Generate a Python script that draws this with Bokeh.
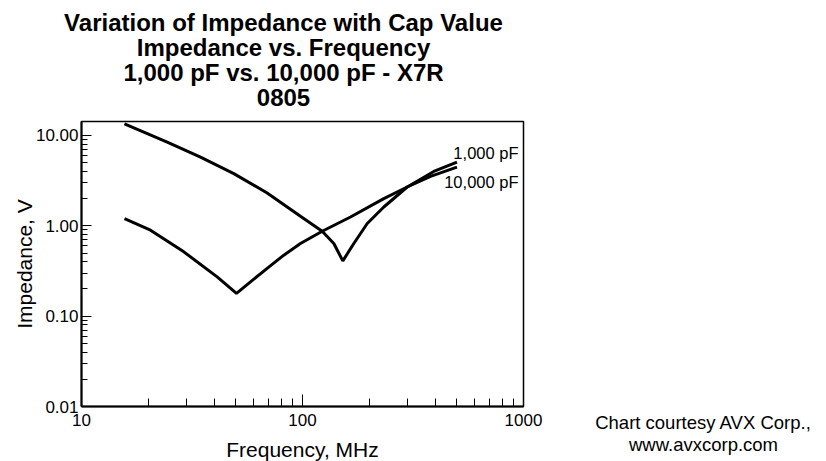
from bokeh.plotting import figure
from bokeh.layouts import column, row
from bokeh.models import Label, FixedTicker, PrintfTickFormatter, Range1d
from bokeh.embed import file_html
from bokeh.resources import INLINE

# ---- data ----
freq_1000pF = [15.65, 24.42, 34.56, 48.89, 69.2, 97.9, 122.8, 138.6, 152.2,
               170.7, 196.3, 233.3, 297.7, 392.7, 500]
z_1000pF = [13.47, 8.44, 5.76, 3.78, 2.31, 1.276, 0.871, 0.637, 0.409,
            0.637, 1.06, 1.616, 2.69, 4.00, 5.07]

freq_10000pF = [15.65, 20.52, 29.04, 41.1, 50.27, 58.17, 69.2, 82.31, 97.9,
                122.8, 164.9, 233.3, 297.7, 379.6, 500]
z_10000pF = [1.203, 0.894, 0.515, 0.2725, 0.1788, 0.240, 0.3375, 0.473,
             0.637, 0.871, 1.253, 2.0, 2.69, 3.53, 4.47]

x_ticks = [10, 100, 1000]
y_ticks = [0.01, 0.1, 1, 10]
title_lines = ["Variation of Impedance with Cap Value",
               "Impedance vs. Frequency",
               "1,000 pF vs. 10,000 pF - X7R",
               "0805"]
series_labels = ["1,000 pF", "10,000 pF"]
x_label = "Frequency, MHz"
y_label = "Impedance, V"
credit_lines = ["Chart courtesy AVX Corp.,", "www.avxcorp.com"]

FONT = "Liberation Sans"

x_minor = [m * t for t in x_ticks[:-1] for m in range(2, 10)]
y_minor = [m * t for t in y_ticks[:-1] for m in range(2, 10)]


def blank_fig(w, h):
    f = figure(width=w, height=h, x_range=Range1d(0, 1), y_range=Range1d(0, 1),
               x_axis_location=None, y_axis_location=None,
               output_backend="svg", toolbar_location=None, min_border=0)
    f.outline_line_color = None
    f.grid.visible = False
    f.background_fill_color = "white"
    f.border_fill_color = "white"
    return f


def add_label(fig, text, sx, sy, size, bold=False, align="center"):
    fig.add_layout(Label(x=sx, y=sy, x_units="screen", y_units="screen",
                         text=text, text_font=FONT, text_font_size=size,
                         text_font_style="bold" if bold else "normal",
                         text_align=align, text_baseline="middle",
                         text_color="black"))


# ---- title strip (page x 0..560, y 0..112) ----
title_fig = blank_fig(560, 112)
for i, t in enumerate(title_lines):
    add_label(title_fig, t, 283, 90.5 - i * 25.3, "24px", bold=True)

# ---- main chart ----
p = figure(width=560, height=348, x_axis_type="log", y_axis_type="log",
           x_range=Range1d(10, 1000), y_range=Range1d(0.01, 14.28),
           output_backend="svg", toolbar_location=None,
           frame_width=442, frame_height=285,
           min_border_left=81, min_border_right=37,
           min_border_top=9, min_border_bottom=54)

p.background_fill_color = "white"
p.border_fill_color = "white"
p.outline_line_color = "black"
p.outline_line_width = 1.5
p.xgrid.visible = False
p.ygrid.visible = False

p.xaxis.ticker = FixedTicker(ticks=x_ticks, minor_ticks=x_minor)
p.yaxis.ticker = FixedTicker(ticks=y_ticks, minor_ticks=y_minor)
p.xaxis.formatter = PrintfTickFormatter(format="%d")
p.yaxis.formatter = PrintfTickFormatter(format="%.2f")

for ax in (p.xaxis, p.yaxis):
    ax.axis_line_width = 2
    ax.axis_line_color = "black"
    ax.major_tick_line_color = "black"
    ax.minor_tick_line_color = "black"
    ax.major_tick_line_width = 1
    ax.minor_tick_line_width = 1
    ax.major_tick_out = 0
    ax.minor_tick_out = 0
    ax.major_label_text_font = FONT
    ax.major_label_text_font_size = "17px"
    ax.major_label_text_color = "black"
    ax.axis_label_text_font = FONT
    ax.axis_label_text_font_size = "21px"
    ax.axis_label_text_font_style = "normal"
    ax.axis_label_text_color = "black"

p.xaxis.axis_label = x_label
p.yaxis.axis_label = y_label
p.xaxis.major_tick_in = 12
p.xaxis.minor_tick_in = 8
p.yaxis.major_tick_in = 10
p.yaxis.minor_tick_in = 6
p.xaxis.major_label_standoff = 7
p.yaxis.major_label_standoff = 3
p.xaxis.axis_label_standoff = 9
p.yaxis.axis_label_standoff = -3

p.line(freq_1000pF, z_1000pF, line_color="black", line_width=3)
p.line(freq_10000pF, z_10000pF, line_color="black", line_width=3)

# frame bottom-left is the origin of these screen offsets
add_label(p, series_labels[0], 437, 254, "16.5px", align="right")
add_label(p, series_labels[1], 437, 225, "16.5px", align="right")

# ---- credits column (page x 560..826, y 0..460) ----
credit_fig = blank_fig(266, 460)
add_label(credit_fig, credit_lines[0], 143, 38.5, "18.5px")
add_label(credit_fig, credit_lines[1], 143, 16.5, "18.5px")

layout = row(column(title_fig, row(p, spacing=0), spacing=0), credit_fig,
             spacing=0)

open("out.html", "w").write(file_html(layout, INLINE))
